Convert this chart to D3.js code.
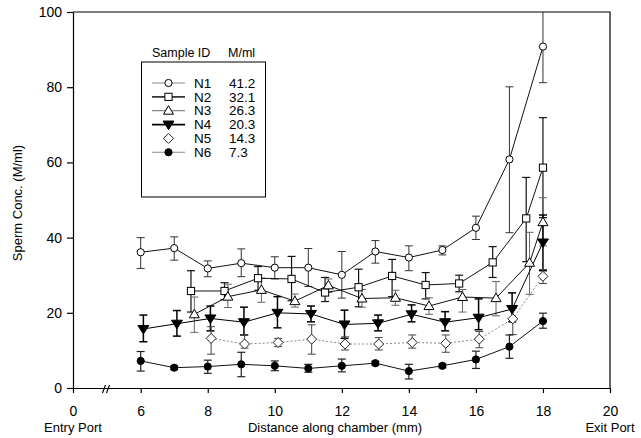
<!DOCTYPE html>
<html>
<head>
<meta charset="utf-8">
<script src="https://cdn.jsdelivr.net/npm/d3@7"></script>
<style>
  html, body { margin: 0; padding: 0; background: #fff; }
  svg { display: block; font-family: Arial, "Liberation Sans", sans-serif; }
</style>
</head>
<body>
<svg id="chart" width="641" height="438"></svg>
<script>
// Sperm concentration along the chamber for six samples (mean with error range)
const sampleIds = ["N1", "N2", "N3", "N4", "N5", "N6"];
const sampleConc = ["41.2", "32.1", "26.3", "20.3", "14.3", "7.3"];

const n1X = [6, 7, 8, 9, 10, 11, 12, 13, 14, 15, 16, 17, 18];
const n1Y = [36.1, 37.2, 31.8, 33.2, 32.0, 32.0, 30.1, 36.3, 34.7, 36.7, 42.6, 60.8, 90.8];
const n1Lo = [31.8, 34.0, 29.6, 29.6, 29.0, 27.0, 23.9, 33.2, 31.2, 35.4, 39.5, 41.3, 81.2];
const n1Hi = [40.0, 40.2, 33.8, 37.0, 34.9, 37.1, 36.3, 39.2, 37.8, 37.8, 45.7, 80.1, 100];

const n2X = [7.5, 8.5, 9.5, 10.5, 11.5, 12.5, 13.5, 14.5, 15.5, 16.5, 17.5, 18];
const n2Y = [25.8, 25.8, 29.2, 29.0, 25.4, 26.8, 29.8, 27.4, 27.8, 33.4, 45.1, 58.6];
const n2Lo = [20.2, 23.5, 26.0, 23.2, 23.0, 21.6, 24.3, 23.7, 25.6, 29.4, 33.6, 45.3];
const n2Hi = [31.2, 28.0, 32.3, 35.0, 29.4, 31.6, 34.2, 30.7, 30.0, 37.6, 56.0, 71.9];

const n3X = [7.6, 8.6, 9.6, 10.6, 11.6, 12.6, 13.6, 14.6, 15.6, 16.6, 17.6, 18];
const n3Y = [19.6, 24.3, 26.1, 23.1, 27.3, 23.8, 24.0, 21.8, 24.2, 23.9, 33.3, 44.1];
const n3Lo = [14.8, 21.4, 22.8, 21.5, 25.4, 21.5, 22.0, 19.6, 20.2, 19.2, 24.9, 37.8];
const n3Hi = [24.2, 27.6, 29.2, 25.0, 29.0, 26.2, 26.0, 24.0, 26.2, 28.3, 41.4, 50.6];

const n4X = [6.08, 7.08, 8.08, 9.08, 10.08, 11.08, 12.08, 13.08, 14.08, 15.08, 16.08, 17.08, 18];
const n4Y = [15.7, 17.1, 18.5, 17.5, 20.0, 19.7, 16.9, 17.2, 19.6, 17.5, 18.7, 21.0, 38.7];
const n4Lo = [12.3, 13.8, 15.2, 14.1, 16.0, 17.6, 13.2, 15.2, 17.6, 15.2, 15.5, 17.6, 31.2];
const n4Hi = [19.4, 20.6, 21.8, 21.5, 24.3, 21.8, 20.7, 19.4, 22.1, 20.3, 23.7, 25.3, 46.0];

const n5X = [8.1, 9.1, 10.1, 11.1, 12.1, 13.1, 14.1, 15.1, 16.1, 17.1, 18];
const n5Y = [13.2, 11.7, 12.1, 13.0, 11.7, 11.7, 12.1, 11.9, 13.0, 18.4, 29.7];
const n5Lo = [9.0, 10.6, 11.0, 9.0, 10.1, 10.1, 10.6, 9.5, 10.7, 14.2, 27.8];
const n5Hi = [16.3, 14.1, 13.2, 16.8, 13.6, 13.4, 14.1, 14.1, 15.0, 21.2, 31.5];

const n6X = [6, 7, 8, 9, 10, 11, 12, 13, 14, 15, 16, 17, 18];
const n6Y = [7.2, 5.4, 5.7, 6.3, 5.9, 5.2, 5.9, 6.6, 4.5, 5.9, 7.6, 11.0, 17.8];
const n6Lo = [4.5, 4.9, 3.9, 3.0, 4.6, 4.2, 4.3, 6.1, 2.4, 5.4, 5.2, 7.9, 15.9];
const n6Hi = [9.7, 5.9, 7.4, 9.5, 7.2, 6.3, 7.7, 7.1, 6.3, 6.4, 9.8, 14.1, 19.9];

const xTicks = [0, 6, 8, 10, 12, 14, 16, 18, 20];
const yTicks = [0, 20, 40, 60, 80, 100];

// Drawing styles per sample
const styles = [
  { shape: "circle",   fill: "#fff", line: "#111", dash: null,  bar: "#333", barW: 1,   legendLine: "#888", legendW: 1.2 },
  { shape: "square",   fill: "#fff", line: "#111", dash: null,  bar: "#111", barW: 1.2, legendLine: "#333", legendW: 1.6 },
  { shape: "triangle", fill: "#fff", line: "#111", dash: null,  bar: "#666", barW: 1,   legendLine: "#888", legendW: 1.2 },
  { shape: "tridown",  fill: "#000", line: "#000", dash: null,  bar: "#000", barW: 1.5, legendLine: "#000", legendW: 1.8 },
  { shape: "diamond",  fill: "#fff", line: "#888", dash: "2,2", bar: "#444", barW: 1,   legendLine: null,   legendW: 0 },
  { shape: "circle",   fill: "#000", line: "#111", dash: null,  bar: "#222", barW: 1.2, legendLine: "#888", legendW: 1.2 }
];

const series = [
  { x: n1X, y: n1Y, lo: n1Lo, hi: n1Hi },
  { x: n2X, y: n2Y, lo: n2Lo, hi: n2Hi },
  { x: n3X, y: n3Y, lo: n3Lo, hi: n3Hi },
  { x: n4X, y: n4Y, lo: n4Lo, hi: n4Hi },
  { x: n5X, y: n5Y, lo: n5Lo, hi: n5Hi },
  { x: n6X, y: n6Y, lo: n6Lo, hi: n6Hi }
];

const svg = d3.select("#chart");
const plotL = 73, plotR = 610, plotT = 12, plotB = 388;

// Broken x axis: the 0–6 stretch is compressed
const x = d3.scaleLinear().domain([0, 6, 20]).range([plotL, 140.7, plotR]);
const y = d3.scaleLinear().domain([0, 100]).range([plotB, plotT]);

// Frame (top and right edges)
svg.append("path")
  .attr("d", `M${plotL},${plotT}H${plotR}V${plotB}`)
  .attr("fill", "none").attr("stroke", "#000").attr("stroke-width", 1.2);

// Axes
const yAxis = svg.append("g").attr("transform", `translate(${plotL},0)`)
  .call(d3.axisLeft(y).tickValues(yTicks).tickSize(6).tickPadding(5).tickSizeOuter(0));
const xAxis = svg.append("g").attr("transform", `translate(0,${plotB})`)
  .call(d3.axisBottom(x).tickValues(xTicks).tickSize(5).tickPadding(13).tickSizeOuter(0));
[yAxis, xAxis].forEach(g => {
  g.selectAll("path.domain").attr("stroke", "#000").attr("stroke-width", 1.2);
  g.selectAll(".tick line").attr("stroke", "#000").attr("stroke-width", 1.2);
  g.selectAll(".tick text").attr("font-size", 14).attr("fill", "#000")
    .attr("font-family", "Arial, 'Liberation Sans', sans-serif");
});

// Axis break mark
const brk = svg.append("g").attr("stroke", "#000").attr("stroke-width", 1.2);
brk.append("line").attr("x1", 102.5).attr("y1", 393).attr("x2", 105.5).attr("y2", 385);
brk.append("line").attr("x1", 106.5).attr("y1", 393).attr("x2", 109.5).attr("y2", 385);

// Axis titles
svg.append("text").attr("x", 335).attr("y", 432).attr("text-anchor", "middle")
  .attr("font-size", 13).text("Distance along chamber (mm)");
svg.append("text").attr("x", x(0)).attr("y", 432).attr("text-anchor", "middle")
  .attr("font-size", 13).text("Entry Port");
svg.append("text").attr("x", x(20)).attr("y", 432).attr("text-anchor", "middle")
  .attr("font-size", 13).text("Exit Port");
svg.append("text").attr("transform", "translate(22,203) rotate(-90)")
  .attr("text-anchor", "middle").attr("font-size", 13).text("Sperm Conc. (M/ml)");

// Marker generator
function marker(sel, shape, fill, cx, cy) {
  const stroke = "#000";
  if (shape === "circle") {
    sel.append("circle").attr("cx", cx).attr("cy", cy).attr("r", 3.6)
      .attr("fill", fill).attr("stroke", stroke).attr("stroke-width", 1);
  } else if (shape === "square") {
    sel.append("rect").attr("x", cx - 3.6).attr("y", cy - 3.6).attr("width", 7.2).attr("height", 7.2)
      .attr("fill", fill).attr("stroke", stroke).attr("stroke-width", 1);
  } else if (shape === "triangle") {
    sel.append("path").attr("d", `M${cx},${cy - 5}L${cx + 5},${cy + 3.5}L${cx - 5},${cy + 3.5}Z`)
      .attr("fill", fill).attr("stroke", stroke).attr("stroke-width", 1);
  } else if (shape === "tridown") {
    sel.append("path").attr("d", `M${cx},${cy + 5}L${cx + 5.5},${cy - 3.5}L${cx - 5.5},${cy - 3.5}Z`)
      .attr("fill", fill).attr("stroke", stroke).attr("stroke-width", 1);
  } else if (shape === "diamond") {
    sel.append("path").attr("d", `M${cx},${cy - 5}L${cx + 5},${cy}L${cx},${cy + 5}L${cx - 5},${cy}Z`)
      .attr("fill", fill).attr("stroke", "#222").attr("stroke-width", 1);
  }
}

const line = d3.line().x(d => x(d.x)).y(d => y(d.y));

// Error bars for all series first
series.forEach((s, i) => {
  const st = styles[i];
  const g = svg.append("g").attr("stroke", st.bar).attr("stroke-width", st.barW);
  s.x.forEach((xv, j) => {
    const cx = x(xv);
    g.append("line").attr("x1", cx).attr("x2", cx).attr("y1", y(s.lo[j])).attr("y2", y(s.hi[j]));
    g.append("line").attr("x1", cx - 4).attr("x2", cx + 4).attr("y1", y(s.lo[j])).attr("y2", y(s.lo[j]));
    if (s.hi[j] < 100) {
      g.append("line").attr("x1", cx - 4).attr("x2", cx + 4).attr("y1", y(s.hi[j])).attr("y2", y(s.hi[j]));
    }
  });
});

// Lines and markers
series.forEach((s, i) => {
  const st = styles[i];
  const pts = s.x.map((xv, j) => ({ x: xv, y: s.y[j] }));
  svg.append("path").datum(pts).attr("d", line)
    .attr("fill", "none").attr("stroke", st.line).attr("stroke-width", 1)
    .attr("stroke-dasharray", st.dash);
});
series.forEach((s, i) => {
  const st = styles[i];
  const g = svg.append("g");
  s.x.forEach((xv, j) => marker(g, st.shape, st.fill, x(xv), y(s.y[j])));
});

// Legend
const lg = svg.append("g");
lg.append("text").attr("x", 152).attr("y", 57).attr("font-size", 12.5).text("Sample ID");
lg.append("text").attr("x", 228).attr("y", 57).attr("font-size", 12.5).text("M/ml");
lg.append("rect").attr("x", 141.5).attr("y", 62).attr("width", 124).attr("height", 135)
  .attr("fill", "#fff").attr("stroke", "#000").attr("stroke-width", 1);
sampleIds.forEach((id, i) => {
  const cy = 83 + i * 13.85;
  const st = styles[i];
  if (st.legendLine) {
    lg.append("line").attr("x1", 152).attr("x2", 185).attr("y1", cy).attr("y2", cy)
      .attr("stroke", st.legendLine).attr("stroke-width", st.legendW);
  }
  marker(lg, st.shape, st.fill, 168.5, cy);
  lg.append("text").attr("x", 194).attr("y", cy + 4.7).attr("font-size", 13.5).text(id);
  lg.append("text").attr("x", 229).attr("y", cy + 4.7).attr("font-size", 13.5).text(sampleConc[i]);
});
</script>
</body>
</html>
